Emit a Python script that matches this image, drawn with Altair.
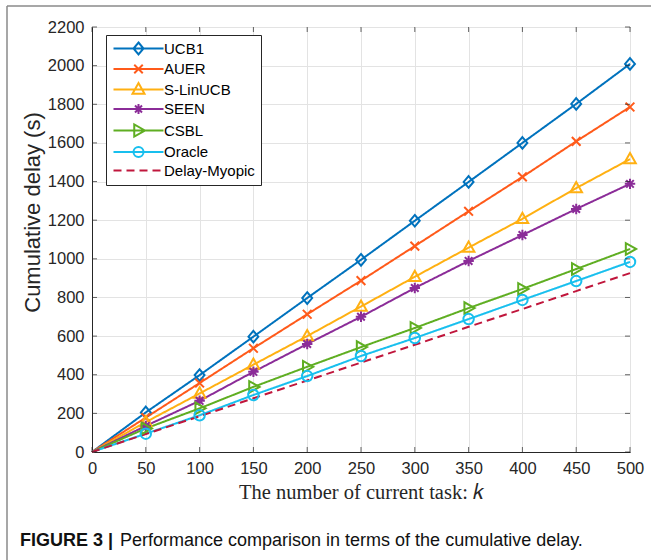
import altair as alt
import pandas as pd

# ---------------- data ----------------
k = [0, 50, 100, 150, 200, 250, 300, 350, 400, 450, 500]
series = ["UCB1", "AUER", "S-LinUCB", "SEEN", "CSBL", "Oracle", "Delay-Myopic"]
ucb1 = [0, 205, 398, 597, 797, 995, 1197, 1398, 1600, 1802, 2009]
auer = [0, 178, 357, 537, 713, 887, 1066, 1246, 1424, 1608, 1786]
slinucb = [0, 155, 303, 452, 600, 753, 907, 1058, 1207, 1366, 1516]
seen = [0, 135, 265, 415, 559, 700, 849, 989, 1123, 1258, 1388]
csbl = [0, 122, 226, 337, 441, 543, 642, 745, 844, 947, 1051]
oracle = [0, 95, 190, 295, 393, 497, 590, 688, 787, 885, 984]
myopic = [0, 93, 185, 278, 370, 463, 555, 648, 740, 833, 926]
x_ticks = [0, 50, 100, 150, 200, 250, 300, 350, 400, 450, 500]
y_ticks = [0, 200, 400, 600, 800, 1000, 1200, 1400, 1600, 1800, 2000, 2200]
caption_bold = "FIGURE 3 |"
caption_text = "Performance comparison in terms of the cumulative delay."
x_title = "The number of current task: \U0001D458"
y_title = "Cumulative delay (s)"

# ---------------- styles ----------------
colors = ["#0072BD", "#FF5A1A", "#FFB012", "#8B2C98", "#5FAE22", "#18BFEE", "#C0163C"]
dashes = [[1, 0], [1, 0], [1, 0], [1, 0], [1, 0], [1, 0], [8, 5]]
marker_paths = [
    "M0,-1L0.85,0L0,1L-0.85,0Z",
    "M-0.75,-0.75L0.75,0.75M0.75,-0.75L-0.75,0.75",
    "M0,-1.05L1,0.72L-1,0.72Z",
    "M-0.9,0L0.9,0M0,-0.9L0,0.9M-0.65,-0.65L0.65,0.65M0.65,-0.65L-0.65,0.65",
    "M1.05,0L-0.72,-1L-0.72,1Z",
    "M0.9,0A0.9,0.9,0,1,1,-0.9,0A0.9,0.9,0,1,1,0.9,0Z",
    "M0,0",
]
legend_paths = [
    "M-5,0L5,0M0,-1.2L1,0L0,1.2L-1,0Z",
    "M-5,0L5,0M-0.85,-0.85L0.85,0.85M0.85,-0.85L-0.85,0.85",
    "M-5,0L5,0M0,-1.3L1.2,0.85L-1.2,0.85Z",
    "M-5,0L5,0M0,-1L0,1M-0.7,-0.7L0.7,0.7M0.7,-0.7L-0.7,0.7",
    "M-5,0L5,0M1.3,0L-0.85,-1.2L-0.85,1.2Z",
    "M-5,0L5,0M1,0A1,1,0,1,1,-1,0A1,1,0,1,1,1,0Z",
    "M-5,0L-3.4,0M-2.4,0L-0.8,0M0.2,0L1.8,0M2.8,0L4.4,0",
]

rows = []
for name, vals in zip(series, [ucb1, auer, slinucb, seen, csbl, oracle, myopic]):
    for kk, v in zip(k, vals):
        rows.append({"k": kk, "delay": v, "Series": name})
df = pd.DataFrame(rows)

W, H = 538, 425
PAD_L, PAD_T = 92, 27
FONT = "Liberation Sans"

xs = alt.Scale(domain=[0, 500], nice=False, zero=False)
ys = alt.Scale(domain=[0, 2200], nice=False, zero=False)
color_scale = alt.Scale(domain=series, range=colors)

ax_x = alt.Axis(values=x_ticks, tickCount=len(x_ticks) + 2, title=x_title, titleFont="Liberation Serif",
                titleFontSize=20.5, titleFontWeight="normal", titleColor="#262626",
                titlePadding=6, format="d", labelFlush=False)
ax_y = alt.Axis(values=y_ticks, tickCount=len(y_ticks) + 2, title=y_title, titleFont=FONT, titleFontSize=22,
                titleFontWeight="normal", titleColor="#262626", titleAngle=-90,
                titleX=-60, titleY=185, titleAlign="center", titleBaseline="middle",
                format="d", labelFlush=False)


def X(field):
    return alt.X(field, scale=xs, axis=ax_x, title=x_title)


def Y(field):
    return alt.Y(field, scale=ys, axis=ax_y, title=y_title)


base = alt.Chart(df)

lines = base.mark_line(strokeWidth=2, clip=False).encode(
    x=X("k:Q"), y=Y("delay:Q"),
    color=alt.Color("Series:N", scale=color_scale, legend=None),
    strokeDash=alt.StrokeDash("Series:N", scale=alt.Scale(domain=series, range=dashes), legend=None),
    detail="Series:N",
)

points = base.transform_filter(
    (alt.datum.k > 0) & (alt.datum.Series != "Delay-Myopic")
).mark_point(filled=False, strokeWidth=2, size=135, opacity=1).encode(
    x=X("k:Q"), y=Y("delay:Q"),
    color=alt.Color("Series:N", scale=color_scale, legend=None),
    shape=alt.Shape("Series:N", scale=alt.Scale(domain=series, range=marker_paths), legend=None),
)

leg = dict(
    orient="none", legendX=14, legendY=8, title=None,
    symbolSize=100, symbolStrokeWidth=2, symbolOpacity=1, symbolOffset=19,
    labelFont=FONT, labelFontSize=15, labelColor="#000000", labelOffset=18,
    rowPadding=1.5, padding=6, fillColor="white", strokeColor="#262626",
)
legend_layer = base.transform_filter(alt.datum.k == 0).mark_point(
    filled=False, strokeWidth=2
).encode(
    x=X("k:Q"), y=Y("delay:Q"),
    opacity=alt.value(0),
    color=alt.Color("Series:N", scale=color_scale, legend=alt.Legend(**leg)),
    shape=alt.Shape("Series:N", scale=alt.Scale(domain=series, range=legend_paths),
                    legend=alt.Legend(**leg)),
)

xt_df = pd.DataFrame({"k": x_ticks})
yt_df = pd.DataFrame({"delay": y_ticks})
tick_col = "#262626"
ticks_bottom = alt.Chart(xt_df).mark_tick(orient="vertical", size=5, thickness=1, color=tick_col, yOffset=-2.5).encode(
    x=X("k:Q"), y=alt.datum(0))
ticks_top = alt.Chart(xt_df).mark_tick(orient="vertical", size=5, thickness=1, color=tick_col, yOffset=2.5).encode(
    x=X("k:Q"), y=alt.datum(2200))
ticks_left = alt.Chart(yt_df).mark_tick(orient="horizontal", size=5, thickness=1, color=tick_col, xOffset=2.5).encode(
    y=Y("delay:Q"), x=alt.datum(0))
ticks_right = alt.Chart(yt_df).mark_tick(orient="horizontal", size=5, thickness=1, color=tick_col, xOffset=-2.5).encode(
    y=Y("delay:Q"), x=alt.datum(500))

cap_bold = alt.Chart(pd.DataFrame({"t": [caption_bold]})).mark_text(
    align="left", baseline="middle", font=FONT, fontSize=18, fontWeight="bold", color="#111111"
).encode(x=alt.value(20 - PAD_L), y=alt.value(541 - PAD_T), text="t:N")
cap_text = alt.Chart(pd.DataFrame({"t": [caption_text]})).mark_text(
    align="left", baseline="middle", font=FONT, fontSize=18, color="#111111"
).encode(x=alt.value(120 - PAD_L), y=alt.value(541 - PAD_T), text="t:N")

frame = alt.Chart(pd.DataFrame({"a": [0]})).mark_rule(color="#8a8a8a", strokeWidth=1.5).encode(
    x=alt.value(7 - PAD_L), x2=alt.value(651 - PAD_L), y=alt.value(6 - PAD_T))
frame_left = alt.Chart(pd.DataFrame({"a": [0]})).mark_rule(color="#8a8a8a", strokeWidth=1.5).encode(
    x=alt.value(7 - PAD_L), y=alt.value(6 - PAD_T), y2=alt.value(560 - PAD_T))

chart = alt.layer(
    lines, frame, frame_left, points, legend_layer,
    ticks_bottom, ticks_top, ticks_left, ticks_right, cap_bold, cap_text
).resolve_scale(
    shape="independent", color="independent"
).properties(
    width=W, height=H,
    autosize=alt.AutoSizeParams(type="none", contains="content"),
    padding={"left": PAD_L, "top": PAD_T, "right": 651 - PAD_L - W, "bottom": 560 - PAD_T - H},
    background="white",
).configure_view(
    stroke="#262626", strokeWidth=1
).configure_axis(
    labelFont=FONT, labelFontSize=16.5, labelColor="#262626",
    grid=True, gridColor="#e3e3e3", gridWidth=1,
    domain=True, domainColor="#262626", domainWidth=1,
    ticks=False, labelPadding=8, labelOverlap=False,
)

chart.save("out.html", embed_options={"renderer": "svg", "actions": False})
